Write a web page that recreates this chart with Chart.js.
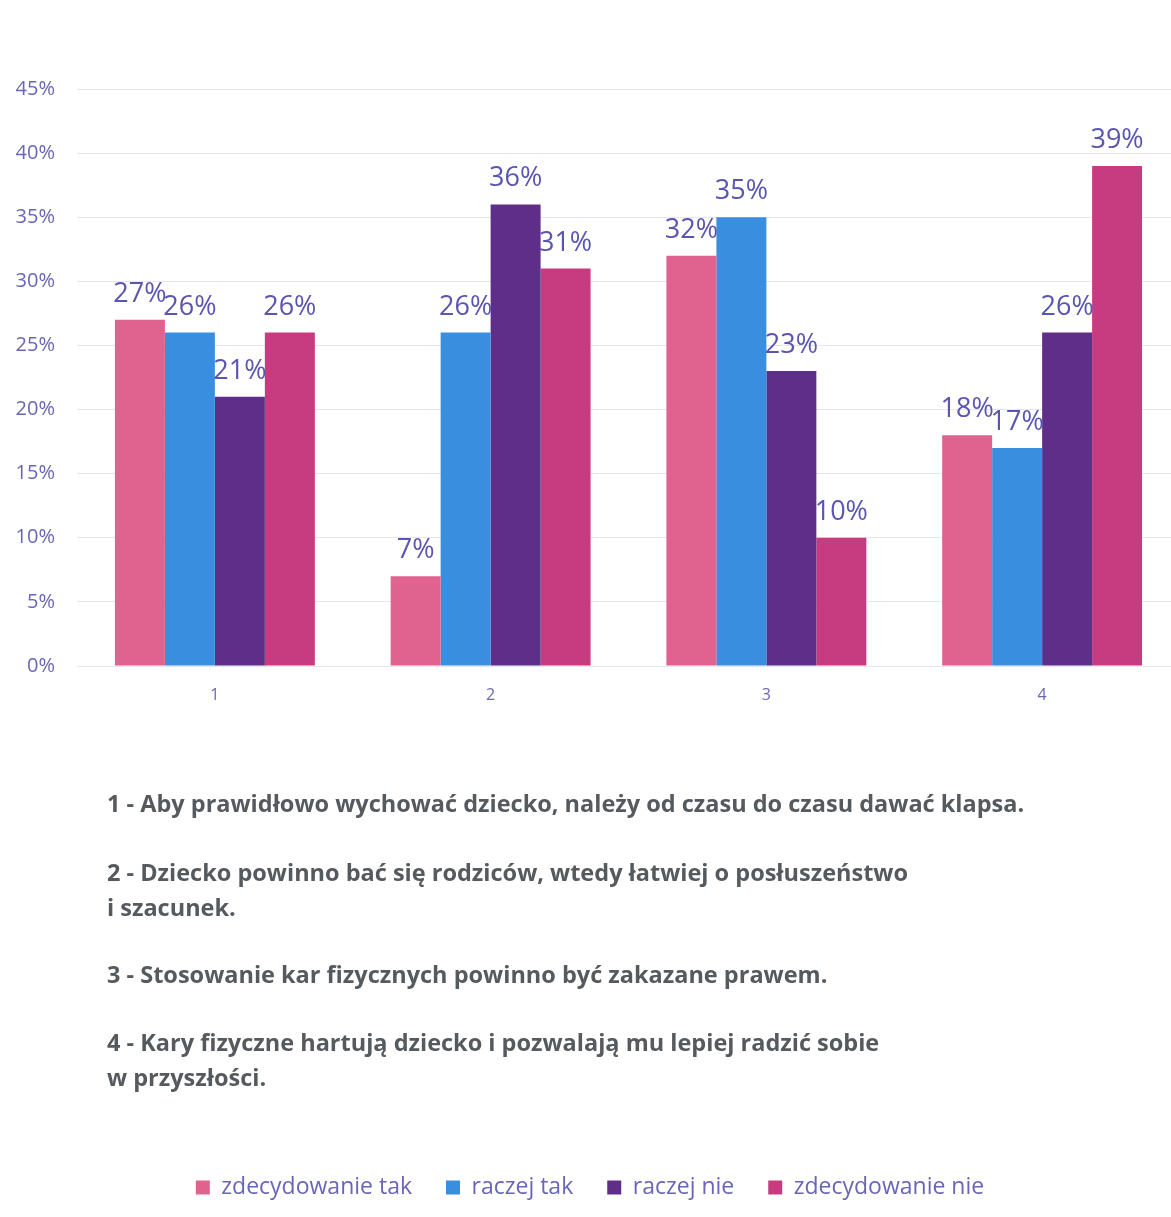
<!DOCTYPE html>
<html>
<head>
<meta charset="utf-8">
<script src="https://cdn.jsdelivr.net/npm/chart.js@4.4.0/dist/chart.umd.min.js"></script>
<style>
  html, body { margin: 0; padding: 0; background: #fff; overflow: hidden; }
  #wrap { position: relative; width: 1180px; height: 1217px; }
  #chart { position: absolute; left: 0; top: 0; }
  .stmt {
    position: absolute; left: 107px;
    font-family: "Open Sans", sans-serif; font-weight: 700; font-size: 23.5px;
    line-height: 35px; color: #555a5f; white-space: nowrap;
  }
</style>
</head>
<body>
<div id="wrap">
  <canvas id="chart" width="1180" height="1217"></canvas>
  <div class="stmt" style="top:786px">1 - Aby prawidłowo wychować dziecko, należy od czasu do czasu dawać klapsa.</div>
  <div class="stmt" style="top:855px">2 - Dziecko powinno bać się rodziców, wtedy łatwiej o posłuszeństwo<br>i szacunek.</div>
  <div class="stmt" style="top:957px">3 - Stosowanie kar fizycznych powinno być zakazane prawem.</div>
  <div class="stmt" style="top:1025px">4 - Kary fizyczne hartują dziecko i pozwalają mu lepiej radzić sobie<br>w przyszłości.</div>
</div>
<script>
const categories = ['1', '2', '3', '4'];
const seriesNames = ['zdecydowanie tak', 'raczej tak', 'raczej nie', 'zdecydowanie nie'];
const zdecydowanieTak = [27, 7, 32, 18];
const raczejTak = [26, 26, 35, 17];
const raczejNie = [21, 36, 23, 26];
const zdecydowanieNie = [26, 31, 10, 39];
const seriesColors = ['#e0628f', '#3a8ee0', '#5e2e88', '#c73c80'];
const yTicks = [0, 5, 10, 15, 20, 25, 30, 35, 40, 45];

const textColor = '#6a66b6';

// draws "27%" style labels above each bar
const valueLabels = {
  id: 'valueLabels',
  afterDatasetsDraw(chart) {
    const ctx = chart.ctx;
    ctx.save();
    ctx.font = '27px "Open Sans", sans-serif';
    ctx.fillStyle = '#5a55b0';
    ctx.textAlign = 'center';
    ctx.textBaseline = 'alphabetic';
    chart.data.datasets.forEach((ds, i) => {
      chart.getDatasetMeta(i).data.forEach((bar, j) => {
        ctx.fillText(ds.data[j] + '%', bar.x, bar.y - 18);
      });
    });
    ctx.restore();
  }
};

const allSeries = [zdecydowanieTak, raczejTak, raczejNie, zdecydowanieNie];

new Chart(document.getElementById('chart').getContext('2d'), {
  type: 'bar',
  data: {
    labels: categories,
    datasets: allSeries.map((vals, i) => ({
      label: seriesNames[i],
      data: vals,
      backgroundColor: seriesColors[i],
      categoryPercentage: 0.725,
      barPercentage: 1.0
    }))
  },
  options: {
    responsive: false,
    animation: false,
    layout: { padding: { top: 89, right: 0, bottom: 8, left: 0 } },
    plugins: {
      tooltip: { enabled: false },
      legend: {
        position: 'bottom',
        labels: {
          color: textColor,
          font: { family: '"Open Sans", sans-serif', size: 23 },
          boxWidth: 14,
          boxHeight: 14,
          padding: 34
        }
      }
    },
    scales: {
      x: {
        grid: { display: false },
        border: { display: false },
        ticks: { color: textColor, font: { family: '"Open Sans", sans-serif', size: 16 }, padding: 12 },
        afterFit(s) { s.height = 476; }
      },
      y: {
        min: 0,
        max: 45,
        afterBuildTicks(s) { s.ticks = yTicks.map(v => ({ value: v })); },
        grid: { color: '#e4e7f1', drawTicks: false },
        border: { display: false },
        ticks: {
          color: textColor,
          font: { family: '"Open Sans", sans-serif', size: 20 },
          padding: 22,
          callback: v => v + '%'
        },
        afterFit(s) { s.width = 77; }
      }
    }
  },
  plugins: [valueLabels]
});
</script>
</body>
</html>
